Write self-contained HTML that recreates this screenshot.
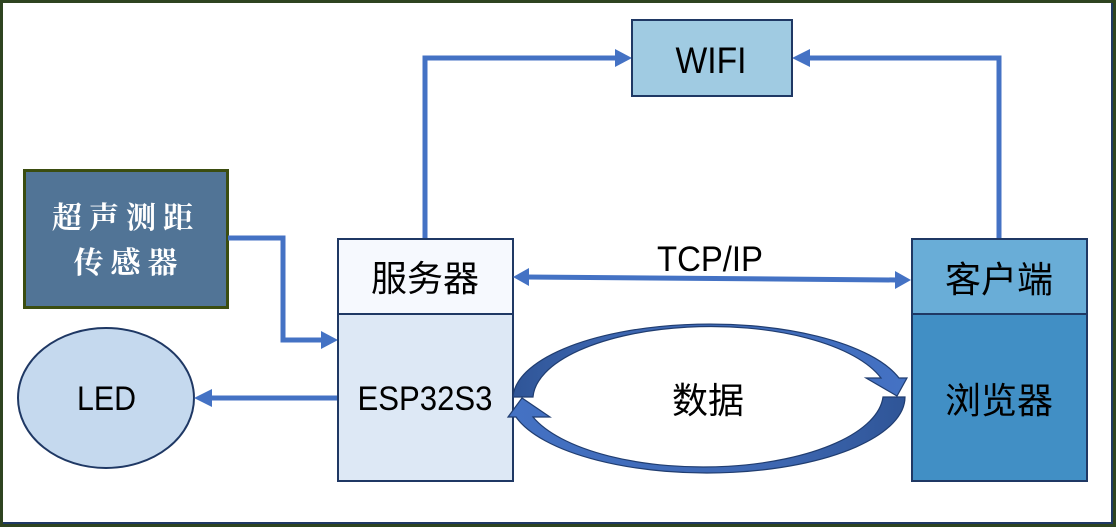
<!DOCTYPE html>
<html>
<head>
<meta charset="utf-8">
<style>
  html, body { margin: 0; padding: 0; background: #fff; }
  body { width: 1116px; height: 527px; overflow: hidden; }
  svg { display: block; }
  .cjk { font-family: "Liberation Sans", "Noto Sans CJK SC", sans-serif; fill: #000; }
  .lat { font-family: "Liberation Sans", sans-serif; fill: #000; }
</style>
</head>
<body>
<svg width="1116" height="527" viewBox="0 0 1116 527" xmlns="http://www.w3.org/2000/svg">
  <defs>
    <linearGradient id="gUp" x1="512" y1="0" x2="910" y2="0" gradientUnits="userSpaceOnUse">
      <stop offset="0" stop-color="#2f5597"/>
      <stop offset="0.25" stop-color="#3d66b0"/>
      <stop offset="1" stop-color="#4472c4"/>
    </linearGradient>
    <linearGradient id="gLo" x1="507" y1="0" x2="905" y2="0" gradientUnits="userSpaceOnUse">
      <stop offset="0" stop-color="#4472c4"/>
      <stop offset="0.7" stop-color="#3d66b0"/>
      <stop offset="1" stop-color="#2f5597"/>
    </linearGradient>
  </defs>

  <!-- outer frame -->
  <rect x="0" y="0" width="1116" height="527" fill="#fff"/>
  <rect x="1.5" y="1.5" width="1113" height="524" fill="none" stroke="#2e4420" stroke-width="3"/>
  <line x1="3" y1="523" x2="1113" y2="523" stroke="#1f3864" stroke-width="2"/>
  <line x1="1112" y1="3" x2="1112" y2="523" stroke="#1f3864" stroke-width="2"/>

  <!-- connectors to WIFI -->
  <polyline points="425,238 425,58 618,58" fill="none" stroke="#4472c4" stroke-width="5"/>
  <polygon points="632,58 615,49 615,67" fill="#4472c4"/>
  <polyline points="999,238 999,58 806,58" fill="none" stroke="#4472c4" stroke-width="5"/>
  <polygon points="792,58 810,49 810,67" fill="#4472c4"/>

  <!-- WIFI box -->
  <rect x="632" y="20" width="160" height="76" fill="#a0cbe2" stroke="#1f3864" stroke-width="2"/>
  <text x="711" y="73" class="lat" font-size="37" text-anchor="middle" textLength="71" lengthAdjust="spacingAndGlyphs">WIFI</text>

  <!-- sensor box -->
  <rect x="24.5" y="170.5" width="203" height="137" fill="#517496" stroke="#3b4d10" stroke-width="3"/>
  <text x="126" y="228" font-family="'Noto Serif CJK SC', 'WenQuanYi Zen Hei', serif" font-weight="700" font-size="30" fill="#fff" text-anchor="middle" letter-spacing="7">超声测距</text>
  <text x="129" y="273" font-family="'Noto Serif CJK SC', 'WenQuanYi Zen Hei', serif" font-weight="700" font-size="30" fill="#fff" text-anchor="middle" letter-spacing="7">传感器</text>

  <!-- sensor connector -->
  <polyline points="228,238 283,238 283,340 324,340" fill="none" stroke="#4472c4" stroke-width="5"/>
  <polygon points="338,340 321,331 321,349" fill="#4472c4"/>

  <!-- LED ellipse -->
  <ellipse cx="106" cy="398" rx="88" ry="70" fill="#c5d9ee" stroke="#1f3864" stroke-width="2"/>
  <text x="106.5" y="410" class="lat" font-size="34" text-anchor="middle" textLength="59" lengthAdjust="spacingAndGlyphs">LED</text>

  <!-- LED arrow -->
  <line x1="337" y1="398" x2="208" y2="398" stroke="#4472c4" stroke-width="5"/>
  <polygon points="194,398 212,389 212,407" fill="#4472c4"/>

  <!-- server box -->
  <rect x="338" y="239" width="175" height="75" fill="#f6f9fe" stroke="#1f3864" stroke-width="2"/>
  <rect x="338" y="314" width="175" height="167" fill="#dde8f5" stroke="#1f3864" stroke-width="2"/>
  <text x="425" y="291" class="cjk" font-size="36" text-anchor="middle">服务器</text>
  <text x="425" y="410" class="lat" font-size="34" text-anchor="middle" textLength="135" lengthAdjust="spacingAndGlyphs">ESP32S3</text>

  <!-- client box -->
  <rect x="912" y="239" width="175" height="75" fill="#69add7" stroke="#1f3864" stroke-width="2"/>
  <rect x="912" y="314" width="175" height="167" fill="#418fc5" stroke="#1f3864" stroke-width="2"/>
  <text x="999" y="292" class="cjk" font-size="36" text-anchor="middle">客户端</text>
  <text x="999" y="413" class="cjk" font-size="36" text-anchor="middle">浏览器</text>

  <!-- TCP/IP double arrow -->
  <line x1="526" y1="277" x2="897" y2="280" stroke="#4472c4" stroke-width="5"/>
  <polygon points="513,277 529,268 529,286" fill="#4472c4"/>
  <polygon points="911,280 895,271 895,289" fill="#4472c4"/>
  <text x="710" y="271" class="lat" font-size="35" text-anchor="middle" textLength="106" lengthAdjust="spacingAndGlyphs">TCP/IP</text>

  <!-- curved data arrows -->
  <path d="M 513,397 A 197,75 0 0 1 899,378 L 907,378 L 897,396 L 866,378 L 881,378 A 178,73 0 0 0 533,397 Z"
        fill="url(#gUp)" stroke="#203d70" stroke-width="1.2" stroke-linejoin="miter"/>
  <path d="M 905,397 A 198,76 0 0 1 516,417 L 508,417 L 522,398 L 550,417 L 533,417 A 180,74 0 0 0 883,397 Z"
        fill="url(#gLo)" stroke="#203d70" stroke-width="1.2" stroke-linejoin="miter"/>
  <text x="708" y="413" class="cjk" font-size="36" text-anchor="middle">数据</text>
</svg>
</body>
</html>
